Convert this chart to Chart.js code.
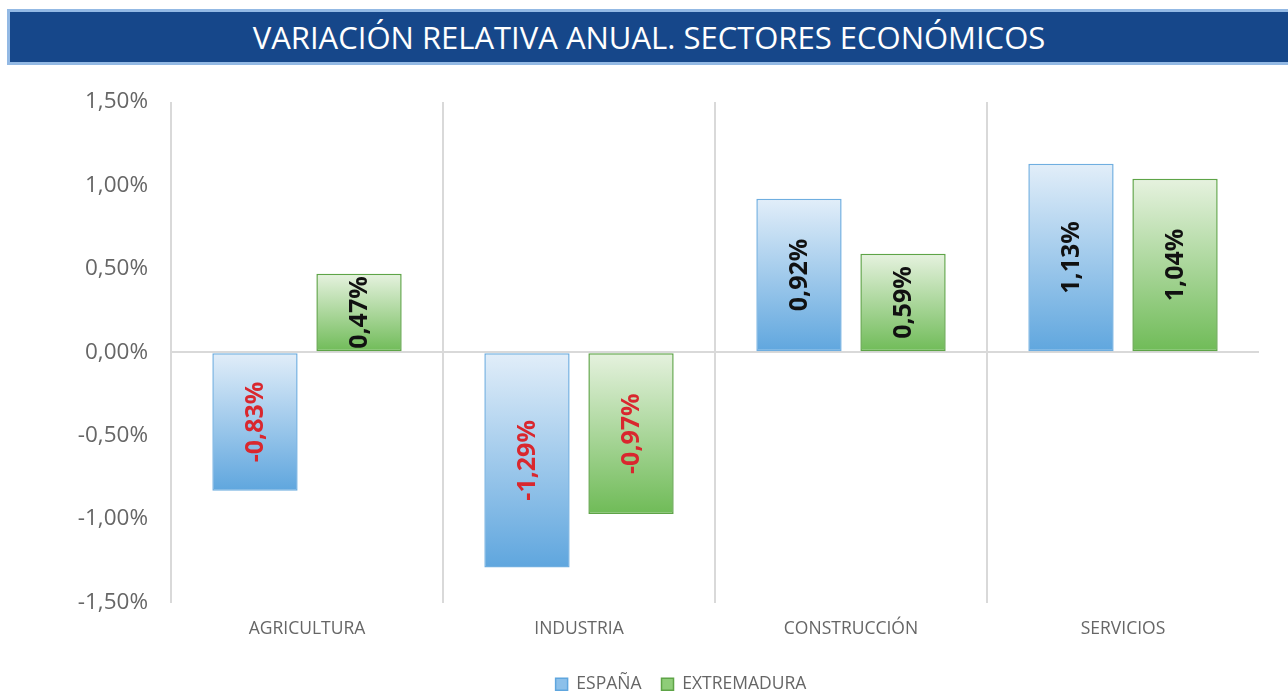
<!DOCTYPE html>
<html>
<head>
<meta charset="utf-8">
<script src="https://cdn.jsdelivr.net/npm/chart.js@4.4.1/dist/chart.umd.min.js"></script>
<style>
  html, body { margin: 0; padding: 0; background: #fff; }
  #wrap { position: relative; width: 1288px; height: 693px; overflow: hidden; }
  #title {
    position: absolute; left: 7px; top: 9px; width: 1290px; height: 50px;
    background: #16478A; border: 3px solid #93B9E4; border-right: none;
    color: #fff; font-family: "Open Sans", sans-serif; font-size: 31px;
    line-height: 50px; text-align: center;
  }
  #title span { display: inline-block; margin-left: -12px; }
  canvas { position: absolute; left: 0; top: 0; }
</style>
</head>
<body>
<div id="wrap">
  <div id="title"><span>VARIACIÓN RELATIVA ANUAL. SECTORES ECONÓMICOS</span></div>
  <canvas id="c" width="1310" height="703"></canvas>
</div>
<script>
const sectors = ['AGRICULTURA', 'INDUSTRIA', 'CONSTRUCCIÓN', 'SERVICIOS'];
const espana = [-0.83, -1.29, 0.92, 1.13];
const extremadura = [0.47, -0.97, 0.59, 1.04];
const yTicks = [-1.5, -1.0, -0.5, 0, 0.5, 1.0, 1.5];

const fmt = v => v.toFixed(2).replace('.', ',') + '%';

function barGradient(light, dark) {
  return ctx => {
    const chart = ctx.chart;
    const ys = chart.scales.y;
    if (!chart.chartArea || !ys || ctx.type !== 'data') return dark;
    const v = ctx.raw;
    const a = ys.getPixelForValue(Math.max(v, 0));
    const b = ys.getPixelForValue(Math.min(v, 0));
    if (!isFinite(a) || !isFinite(b) || a === b) return dark;
    const g = chart.ctx.createLinearGradient(0, a, 0, b);
    g.addColorStop(0, light);
    g.addColorStop(1, dark);
    return g;
  };
}

// rotated value labels inside the bars
const valueLabels = {
  id: 'valueLabels',
  afterDatasetsDraw(chart) {
    const c = chart.ctx;
    chart.data.datasets.forEach((ds, i) => {
      chart.getDatasetMeta(i).data.forEach((bar, j) => {
        const v = ds.data[j];
        const cy = (bar.y + bar.base) / 2;
        c.save();
        c.translate(bar.x, cy);
        c.rotate(-Math.PI / 2);
        c.font = 'bold 25px "Open Sans", sans-serif';
        c.fillStyle = v < 0 ? '#D9272E' : '#111111';
        c.textAlign = 'center';
        c.textBaseline = 'middle';
        c.fillText(fmt(v), 0, 1);
        c.restore();
      });
    });
  }
};

new Chart(document.getElementById('c'), {
  type: 'bar',
  data: {
    labels: sectors,
    datasets: [
      {
        label: 'ESPAÑA',
        data: espana,
        backgroundColor: barGradient('#E2EEF9', '#5FA6DE'),
        borderColor: '#6FAEE0',
        borderWidth: 1.5,
        borderSkipped: false
      },
      {
        label: 'EXTREMADURA',
        data: extremadura,
        backgroundColor: barGradient('#E6F2DF', '#6FBB57'),
        borderColor: '#5EA447',
        borderWidth: 1.5,
        borderSkipped: false
      }
    ]
  },
  options: {
    responsive: false,
    animation: false,
    categoryPercentage: 0.765,
    barPercentage: 0.82,
    layout: { padding: { top: 102, right: 8, left: 60, bottom: 0 } },
    plugins: {
      legend: {
        position: 'bottom',
        labels: {
          font: { family: '"Open Sans", sans-serif', size: 17.5 },
          color: '#666666',
          boxWidth: 12,
          boxHeight: 12,
          padding: 20,
          generateLabels(chart) {
            const fills = ['#8CC0EA', '#8ECD78'];
            const strokes = ['#5FA6DE', '#5EA447'];
            return chart.data.datasets.map((ds, i) => ({
              text: ds.label,
              fillStyle: fills[i],
              strokeStyle: strokes[i],
              lineWidth: 1.5,
              fontColor: '#666666',
              datasetIndex: i
            }));
          }
        }
      },
      tooltip: { enabled: false }
    },
    scales: {
      x: {
        afterFit: s => { s.height = 53; },
        grid: {
          offset: true,
          drawTicks: false,
          lineWidth: 2,
          // no divider after the last category
          color: ctx => ctx.type === 'tick' ? '#D9D9D9' : 'rgba(0,0,0,0)'
        },
        border: { display: false },
        ticks: {
          color: '#666666',
          font: { family: '"Open Sans", sans-serif', size: 17.5 },
          padding: 16
        }
      },
      y: {
        min: -1.5,
        max: 1.5,
        afterFit: s => { s.width = 111; },
        afterBuildTicks: s => { s.ticks = yTicks.map(v => ({ value: v })); },
        grid: {
          drawTicks: false,
          lineWidth: 2,
          color: ctx => ctx.tick && ctx.tick.value === 0 ? '#D9D9D9' : 'rgba(0,0,0,0)'
        },
        border: { display: false },
        ticks: {
          color: '#666666',
          font: { family: '"Open Sans", sans-serif', size: 22.5 },
          padding: 23,
          callback: v => fmt(v)
        }
      },
      // empty right-hand spacer so the legend is centred like the original
      yRight: {
        type: 'linear',
        position: 'right',
        afterFit: s => { s.width = 43; },
        grid: { display: false },
        border: { display: false },
        ticks: { display: false }
      }
    }
  },
  plugins: [valueLabels]
});
</script>
</body>
</html>
